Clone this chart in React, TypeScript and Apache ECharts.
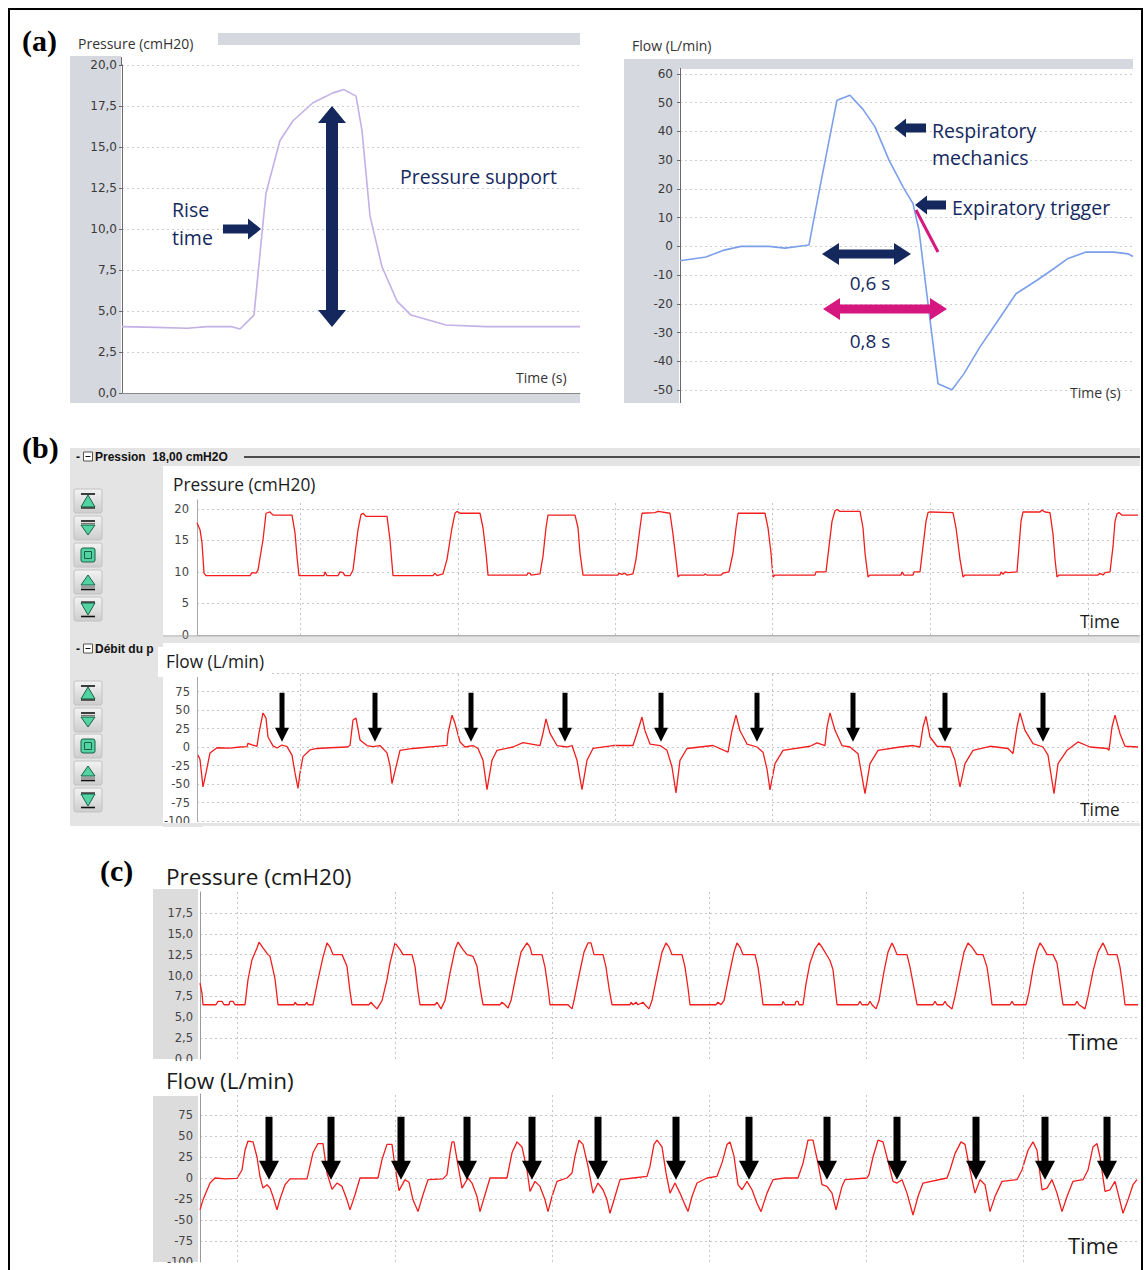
import React, { useEffect, useRef } from 'react';
import * as echarts from 'echarts';

const W = 1146;
const H = 1270;

// ---------- Panel (a): one breath (x = sample index from start of trace) ----------
const aPressure: [number, number][] = [
  [0, 4.05], [34, 4.0], [65, 3.95], [85, 4.05], [109, 4.05], [118, 3.9], [132, 4.75], [138, 8.5],
  [144, 12.2], [158, 15.4], [171, 16.6], [191, 17.7], [211, 18.3], [222, 18.5], [234, 18.1], [240, 16.0],
  [248, 10.8], [260, 7.7], [275, 5.6], [289, 4.75], [324, 4.15], [364, 4.05], [458, 4.05],
];
const aFlow: [number, number][] = [
  [0, -5.0], [26, -3.7], [43, -1.4], [61, 0], [89, 0], [105, -0.6], [129, 0.5], [140, 20.7],
  [157, 50.9], [170, 52.6], [183, 47.7], [195, 41.6], [209, 30], [223, 20.7], [233, 14.9], [239, 5.6],
  [248, -19.9], [258, -47.8], [272, -49.9], [284, -44.3], [300, -35], [318, -25.8], [336, -16.5],
  [357, -11.8], [374, -7.7], [388, -4.2], [406, -2], [434, -2], [448, -2.6], [453, -3.5],
];

// ---------- Panel (b): pressure support 18 cmH2O, delayed cycling ----------
const bPressure: [number, number][] = [
  [0, 17.8], [3, 16.7], [5, 14.6], [7, 9.8], [9, 9.4],
  [53, 9.4], [55, 9.9], [59, 9.8], [61, 10.3], [66, 15.1], [69, 19.3], [73, 19.5], [76, 19.0], [95, 19.0], [98, 16.2], [100, 12.4], [102, 9.4],
  [127, 9.4], [128, 10.0], [130, 9.4], [141, 9.4], [143, 10.0], [146, 9.9], [148, 9.4], [153, 9.4], [156, 10.3], [161, 16.7], [164, 19.1], [166, 19.3], [169, 18.8], [190, 18.8], [193, 15.1], [196, 9.4],
  [236, 9.4], [238, 9.8], [240, 9.4], [246, 9.7], [250, 12], [255, 17], [258, 19.3], [260, 19.6], [263, 19.3], [283, 19.3], [286, 17], [289, 13], [291, 9.5],
  [330, 9.5], [331, 9.8], [333, 9.8], [334, 9.5], [343, 9.7], [346, 12.5], [349, 17], [351, 19.0], [378, 19.0], [381, 17], [383, 13], [386, 9.5],
  [421, 9.5], [422, 9.8], [425, 9.6], [428, 9.8], [430, 9.5], [436, 9.7], [439, 12], [443, 17], [445, 19.3], [458, 19.4], [461, 19.6], [473, 19.3], [476, 16], [479, 12], [481, 9.2],
  [483, 9.5], [507, 9.5], [508, 9.7], [510, 9.5], [524, 9.5], [526, 9.8], [532, 10.0], [536, 13], [539, 17], [541, 19.3], [568, 19.3], [571, 17], [574, 13], [576, 9.2],
  [578, 9.5], [618, 9.5], [619, 10.0], [629, 10.0], [632, 14], [635, 18], [638, 19.7], [640, 19.9], [643, 19.6], [663, 19.6], [666, 17], [668, 13], [671, 9.2],
  [673, 9.5], [704, 9.5], [705, 10.0], [707, 9.5], [716, 9.5], [717, 10.0], [723, 10.0], [726, 14], [729, 18], [731, 19.4], [733, 19.5], [756, 19.4], [759, 17], [763, 12], [766, 9.2],
  [768, 9.5], [803, 9.5], [804, 10.0], [806, 9.6], [808, 10.0], [811, 9.9], [820, 10.0], [822, 14], [824, 18], [826, 19.5], [843, 19.5], [845, 19.8], [848, 19.5], [853, 19.4], [856, 16], [858, 12], [860, 9.2],
  [862, 9.5], [901, 9.5], [903, 9.8], [906, 9.5], [908, 9.9], [913, 10.0], [916, 14], [918, 18], [920, 19.2], [922, 19.4], [925, 19.0], [941, 19.0],
];
const bFlow: [number, number][] = [
  [1, -11], [3, -17], [6, -54], [9, -35], [13, -8], [20, -1], [33, -1.5], [43, 0], [50, 0.5], [51, 5], [55, 3], [60, 1], [62, 19], [66, 46], [69, 39], [71, 13.5], [76, 1.5], [80, -1.4], [85, 2.7], [90, 0.5],
  [95, -11], [98, -35], [101, -56], [103, -35], [106, -13], [113, -4], [120, -2], [133, -1], [150, 0], [153, 2], [156, 36.5], [159, 39], [163, 9.5], [170, 2], [176, 0.5], [183, 2],
  [190, -8], [193, -25], [195, -49.5], [203, -4.5], [216, -2], [250, 2.3], [251, 18.5], [255, 43], [258, 32], [263, 6.8], [268, 0], [276, 2], [281, -2],
  [286, -18], [290, -57.6], [295, -18], [300, -4.5], [316, 0], [326, 6], [343, 2], [346, 18.5], [349, 38], [353, 18.5], [360, 2], [370, 0], [375, 2],
  [380, -18], [385, -57.6], [390, -18], [396, -2], [416, 2], [436, 2], [440, 18.5], [445, 40.5], [448, 22], [453, 4], [463, 2], [470, -4.5],
  [475, -27], [479, -62], [483, -18], [490, -2], [516, 2], [531, -7], [535, 22], [539, 43], [543, 22], [550, 4], [560, 0], [566, -7],
  [570, -30], [573, -58], [578, -22.5], [586, -4.5], [613, 1], [620, 5.5], [628, 2], [630, 27], [633, 46], [638, 22.5], [645, 2], [653, 0], [661, -9],
  [668, -63], [673, -22.5], [681, -4.5], [703, 0], [716, 2], [723, 0], [726, 27], [729, 41.5], [733, 13.5], [740, 1], [753, 0],
  [758, -18], [763, -54], [768, -22.5], [776, -4.5], [793, 1], [811, -2], [816, -9], [820, 27], [823, 46], [828, 22.5], [836, 4.5], [846, 0],
  [851, -11], [857, -63], [861, -22.5], [870, -4.5], [881, 6.8], [893, 0], [910, -2], [912, -4.5], [915, 27], [918, 43], [923, 18], [928, 1], [941, 0],
];
const bArrowTimes = [85, 178, 274, 368, 464, 560, 656, 748, 846];
const bArrowLevel = 7;
const bGridTimes = [103, 261, 418, 575, 733, 891];

// ---------- Panel (c): lower support, cycling asynchrony ----------
const cPressure: [number, number][] = [
  [0, 9.1], [2, 7.9], [3, 6.5], [16, 6.5], [18, 6.9], [22, 6.9], [24, 6.5], [29, 6.5], [30, 6.9], [33, 6.9], [35, 6.5], [45, 6.5],
  [48, 9.5], [52, 11.9], [57, 13.3], [59, 14.0], [63, 13.3], [68, 12.5], [70, 12.3], [73, 10.7], [75, 9.6], [78, 6.5],
  [94, 6.5], [95, 6.8], [97, 6.5], [105, 6.5], [107, 6.8], [108, 6.5], [113, 6.5], [118, 9.5], [123, 12.2], [127, 13.9], [130, 13.4], [133, 12.5], [142, 12.5], [147, 11.1], [150, 8.1], [152, 6.5],
  [169, 6.5], [171, 6.8], [173, 6.5], [177, 6.0], [182, 7.0], [187, 9.5], [190, 11.5], [195, 13.9], [200, 13.1], [203, 12.5], [212, 12.5], [215, 11.1], [218, 8.1], [220, 6.5],
  [235, 6.5], [237, 6.8], [241, 6.0], [245, 7.0], [250, 10.3], [255, 13.1], [258, 14.0], [263, 13.1], [267, 12.5], [273, 12.3], [277, 11.1], [280, 8.6], [283, 6.5],
  [300, 6.5], [302, 6.8], [305, 6.5], [308, 6.1], [311, 7.0], [316, 10.0], [321, 12.8], [327, 13.9], [330, 13.4], [332, 12.5], [342, 12.5], [345, 11.0], [348, 8.5], [350, 6.5],
  [368, 6.5], [372, 6.0], [374, 7.0], [379, 10.0], [384, 12.8], [388, 13.9], [391, 13.9], [394, 12.5], [403, 12.5], [406, 11.0], [409, 8.5], [412, 6.5],
  [430, 6.5], [431, 6.8], [433, 6.5], [436, 6.8], [438, 6.5], [443, 6.8], [445, 6.5], [449, 6.0], [452, 7.0], [457, 10.0], [462, 12.8], [466, 13.9], [469, 13.4], [472, 12.5], [482, 12.5], [485, 11.0], [488, 8.5], [490, 6.5],
  [516, 6.5], [518, 6.8], [521, 6.5], [524, 7.0], [529, 10.0], [534, 12.8], [537, 13.9], [540, 13.4], [543, 12.5], [555, 12.5], [558, 11.0], [561, 8.5], [563, 6.5],
  [582, 6.5], [583, 6.9], [585, 6.5], [595, 6.5], [596, 6.9], [598, 6.9], [599, 6.5], [603, 6.5], [606, 9.0], [610, 11.5], [615, 13.2], [619, 13.9], [622, 13.4], [627, 12.4], [630, 11.8], [633, 10.7], [637, 6.5],
  [658, 6.5], [660, 6.9], [662, 6.5], [668, 6.5], [670, 6.9], [672, 6.5], [676, 6.0], [679, 7.0], [684, 10.5], [688, 12.8], [692, 13.9], [694, 13.4], [697, 12.5], [707, 12.5], [710, 11.0], [714, 8.5], [717, 6.5],
  [733, 6.5], [735, 6.9], [737, 6.5], [743, 6.5], [745, 6.9], [747, 6.5], [752, 6.0], [755, 7.5], [760, 10.5], [764, 12.8], [768, 13.9], [772, 13.4], [777, 12.5], [783, 12.5], [787, 11.0], [790, 8.5], [792, 6.5],
  [810, 6.5], [812, 6.9], [814, 6.5], [826, 6.5], [829, 8.0], [833, 10.8], [837, 13.0], [840, 13.9], [843, 13.4], [847, 12.5], [853, 12.5], [857, 11.5], [860, 9.0], [863, 6.5],
  [875, 6.5], [877, 6.9], [879, 6.5], [885, 6.0], [888, 7.5], [893, 10.5], [898, 12.8], [903, 13.9], [905, 13.4], [908, 12.5], [917, 12.5], [920, 11.0], [923, 8.5], [925, 6.5], [938, 6.5],
];
const cFlow: [number, number][] = [
  [0, -38], [3, -26], [10, -6], [15, 0], [25, -1], [37, -0.5], [42, 9.5], [45, 33], [48, 44], [53, 43], [57, 25], [60, 1.5], [63, -12], [67, -8], [70, -12], [73, -22], [77, -38], [80, -25], [85, -8], [90, -1],
  [107, -1], [108, 4], [113, 30], [118, 41], [123, 41], [127, 6], [132, -13.5], [137, -6], [142, -10], [147, -26], [150, -38], [155, -20], [160, 0],
  [178, 0], [182, 22], [187, 40], [192, 40], [195, 13.5], [199, -15], [205, -2], [209, -5], [213, -26], [218, -40], [223, -20], [228, -2],
  [243, -1], [247, 4], [250, 30], [252, 43], [254, 43], [257, 22], [262, -12], [268, 0], [272, -6], [277, -22], [280, -40], [285, -20], [290, 0],
  [307, 0], [312, 30], [317, 43], [322, 37], [327, 9.5], [330, -16], [335, -4], [340, -10], [345, -26], [348, -40], [352, -22], [357, -4], [367, 0],
  [372, 6], [375, 26], [379, 45], [383, 40], [388, 14], [393, -18], [398, -6], [403, -14], [407, -26], [410, -42], [415, -22], [420, -2], [433, 0],
  [447, 2], [450, 14], [454, 40], [457, 45], [462, 37], [466, 6], [470, -18], [475, -6], [480, -18], [485, -32], [488, -40], [492, -22], [497, -6], [507, 0],
  [517, 2], [522, 18], [527, 40], [530, 43], [534, 26], [538, -8], [542, -14], [547, -4], [552, -14], [557, -30], [561, -40], [567, -18], [573, -2], [585, 0],
  [598, 0], [603, 17.5], [608, 45], [613, 45], [618, 17.5], [622, -8], [627, -10], [632, -18], [636, -38], [642, -10], [645, -2], [667, 0],
  [669, 4], [673, 25], [678, 45], [683, 43], [688, 20], [693, -4], [697, -6], [702, -2], [707, -18], [713, -44], [718, -22], [723, -6], [747, 0],
  [750, 9.5], [755, 29], [761, 43], [765, 40], [770, 9.5], [775, -18], [780, -2], [785, -8], [790, -40], [795, -22], [802, -4], [817, -2],
  [822, 9.5], [828, 33], [833, 43], [837, 33], [842, -14], [847, -12], [852, -2], [857, -18], [862, -40], [867, -22], [873, -4], [883, -2],
  [888, 9.5], [893, 37], [897, 41], [900, 25], [905, -16], [910, -14], [915, -4], [918, -18], [923, -42], [928, -26], [933, -8], [937, -2],
];
const cArrowTimes = [69, 131, 201, 267, 332, 398, 476, 549, 627, 697, 776, 845, 907];
const cArrowLevel = -2;
const cGridTimes = [37, 195, 352, 509, 666, 823];

// ---------- styling ----------
const NAVY = '#14285e';
const MAG = '#d6177f';
const RED = '#f21d1d';
const SANS = '"Open Sans", "DejaVu Sans", sans-serif';
const TICKF = '"DejaVu Sans", sans-serif';
const SERIF = '"Liberation Serif", "Times New Roman", serif';

const comma = (d: number) => (v: number) => v.toFixed(d).replace('.', ',');
const dotLine = (c = '#c6c6c6') => ({ color: c, type: [2, 3] as number[], width: 1 });

const ARROW_B = 'path://M4.5,0 L9.5,0 L9.5,35 L14,35 L7,49 L0,35 L4.5,35 Z';
const ARROW_C = 'path://M6.5,0 L13.5,0 L13.5,44 L20,44 L10,63 L0,44 L6.5,44 Z';

function txt(x: number, y: number, text: string, size: number, fill: string, extra: any = {}) {
  return {
    type: 'text', z: 20, x, y,
    style: {
      text, fill, fontSize: size, fontFamily: extra.family || SANS, fontWeight: extra.weight || 'normal',
      align: extra.align || 'left', verticalAlign: 'middle',
      textAlign: extra.align || 'left', textVerticalAlign: 'middle',
    },
  };
}
function rect(x: number, y: number, w: number, h: number, fill: string, z = -3, stroke?: string) {
  return { type: 'rect', z, shape: { x, y, width: w, height: h }, style: { fill, stroke: stroke || null, lineWidth: 1 } };
}
function seg(x1: number, y1: number, x2: number, y2: number, stroke: string, lw = 1, z = 15) {
  return { type: 'line', z, shape: { x1, y1, x2, y2 }, style: { stroke, lineWidth: lw } };
}
function poly(points: number[][], fill: string, z = 15) {
  return { type: 'polygon', z, shape: { points }, style: { fill } };
}
function hDouble(x1: number, x2: number, y: number, s: number, hw: number, hl: number, fill: string) {
  return poly([
    [x1, y], [x1 + hl, y - hw / 2], [x1 + hl, y - s / 2], [x2 - hl, y - s / 2], [x2 - hl, y - hw / 2], [x2, y],
    [x2 - hl, y + hw / 2], [x2 - hl, y + s / 2], [x1 + hl, y + s / 2], [x1 + hl, y + hw / 2],
  ], fill);
}
function vDouble(x: number, y1: number, y2: number, s: number, hw: number, hl: number, fill: string) {
  return poly([
    [x, y1], [x + hw / 2, y1 + hl], [x + s / 2, y1 + hl], [x + s / 2, y2 - hl], [x + hw / 2, y2 - hl], [x, y2],
    [x - hw / 2, y2 - hl], [x - s / 2, y2 - hl], [x - s / 2, y1 + hl], [x - hw / 2, y1 + hl],
  ], fill);
}
function hArrow(tail: number, tip: number, y: number, s: number, hw: number, hl: number, fill: string) {
  const d = tip > tail ? 1 : -1;
  const b = tip - d * hl;
  return poly([[tail, y - s / 2], [b, y - s / 2], [b, y - hw / 2], [tip, y], [b, y + hw / 2], [b, y + s / 2], [tail, y + s / 2]], fill);
}

function button(cx: number, cy: number, kind: number) {
  const G = '#52d3a2';
  const GS = '#1b5f49';
  const els: any[] = [];
  els.push({
    type: 'rect', z: 5, shape: { x: cx - 14, y: cy - 12, width: 28, height: 24, r: 2 },
    style: {
      fill: new echarts.graphic.LinearGradient(0, 0, 0, 1, [
        { offset: 0, color: '#f3f3f3' }, { offset: 1, color: '#cdcdcd' },
      ]),
      stroke: '#c2c2c2', lineWidth: 1,
    },
  });
  const tri = (pts: number[][]) => ({ type: 'polygon', z: 6, shape: { points: pts }, style: { fill: G, stroke: GS, lineWidth: 1 } });
  if (kind === 0) {
    els.push(seg(cx - 7, cy - 7, cx + 7, cy - 7, '#111', 1.6, 7));
    els.push(tri([[cx, cy - 6], [cx + 7, cy + 6], [cx - 7, cy + 6]]));
    els.push(seg(cx - 7, cy + 7, cx + 7, cy + 7, '#111', 1.2, 7));
  } else if (kind === 1) {
    els.push(seg(cx - 7, cy - 7, cx + 7, cy - 7, '#111', 1.6, 7));
    els.push(seg(cx - 7, cy - 4.5, cx + 7, cy - 4.5, '#777', 1.2, 7));
    els.push(tri([[cx - 7, cy - 3], [cx + 7, cy - 3], [cx, cy + 7]]));
  } else if (kind === 2) {
    els.push({ type: 'rect', z: 6, shape: { x: cx - 7, y: cy - 7, width: 14, height: 14, r: 2 }, style: { fill: G, stroke: GS, lineWidth: 1 } });
    els.push({ type: 'rect', z: 7, shape: { x: cx - 3.5, y: cy - 3.5, width: 7, height: 7 }, style: { fill: 'none', stroke: GS, lineWidth: 1 } });
  } else if (kind === 3) {
    els.push(tri([[cx, cy - 7], [cx + 7, cy + 3], [cx - 7, cy + 3]]));
    els.push(seg(cx - 7, cy + 5, cx + 7, cy + 5, '#777', 1.2, 7));
    els.push(seg(cx - 7, cy + 7.5, cx + 7, cy + 7.5, '#111', 1.6, 7));
  } else {
    els.push(seg(cx - 7, cy - 7, cx + 7, cy - 7, '#111', 1.2, 7));
    els.push(tri([[cx - 7, cy - 6], [cx + 7, cy - 6], [cx, cy + 6]]));
    els.push(seg(cx - 7, cy + 7.5, cx + 7, cy + 7.5, '#111', 1.6, 7));
  }
  return els;
}

function header(y: number, label: string) {
  return [
    txt(76, y, '-', 12, '#111', { family: '"Liberation Sans", Arial, sans-serif', weight: 'bold' }),
    { type: 'rect', z: 20, shape: { x: 83.5, y: y - 5, width: 9, height: 9 }, style: { fill: '#fff', stroke: '#555', lineWidth: 1 } },
    seg(85.5, y - 0.5, 90.5, y - 0.5, '#111', 1, 21),
    txt(95, y, label, 12, '#111', { family: '"Liberation Sans", Arial, sans-serif', weight: 'bold' }),
  ];
}

function buildOption(): any {
  const grids = [
    { left: 122, top: 65, width: 458, height: 328 },
    { left: 680, top: 74, width: 453, height: 316 },
    { left: 197, top: 500, width: 941, height: 135 },
    { left: 197, top: 673, width: 941, height: 148 },
    { left: 200, top: 892, width: 938, height: 167 },
    { left: 200, top: 1094, width: 938, height: 168 },
  ];
  const xMax = [458, 453, 941, 941, 938, 938];
  const xAxis = grids.map((_, i) => ({
    type: 'value', gridIndex: i, min: 0, max: xMax[i],
    axisLabel: { show: false }, axisTick: { show: false }, splitLine: { show: false },
    axisLine: { show: i === 0 || i === 2, onZero: false, lineStyle: { color: i === 0 ? '#8a8a8a' : '#a8a8a8', width: 1 } },
  }));
  const tickLabel = (size: number, color: string, margin: number, fmt?: any) => ({
    fontSize: size, color, fontFamily: TICKF, margin, formatter: fmt,
  });
  const yAxis = [
    {
      type: 'value', gridIndex: 0, min: 0, max: 20, interval: 2.5,
      axisLine: { show: true, lineStyle: { color: '#6a6a6a' } },
      axisTick: { show: true, length: 3, lineStyle: { color: '#6a6a6a' } },
      axisLabel: tickLabel(12, '#3a3a3a', 5, comma(1)),
      splitLine: { show: true, showMinLine: false, lineStyle: dotLine('#cfcfcf') },
    },
    {
      type: 'value', gridIndex: 1, min: -50, max: 60, interval: 10,
      axisLine: { show: true, lineStyle: { color: '#6a6a6a' } },
      axisTick: { show: true, length: 3, lineStyle: { color: '#6a6a6a' } },
      axisLabel: tickLabel(12, '#3a3a3a', 7),
      splitLine: { show: true, lineStyle: dotLine('#cfcfcf') },
    },
    {
      type: 'value', gridIndex: 2, min: 0, max: 21.4, interval: 5,
      axisLine: { show: true, lineStyle: { color: '#a8a8a8' } },
      axisTick: { show: false },
      axisLabel: { ...tickLabel(11.5, '#444', 8), showMaxLabel: false },
      splitLine: { show: true, showMinLine: false, showMaxLine: false, lineStyle: dotLine() },
    },
    {
      type: 'value', gridIndex: 3, min: -100, max: 100, interval: 25,
      axisLine: { show: true, lineStyle: { color: '#a8a8a8' } },
      axisTick: { show: false },
      axisLabel: { ...tickLabel(11.5, '#444', 7), showMaxLabel: false },
      splitLine: { show: true, lineStyle: dotLine() },
    },
    {
      type: 'value', gridIndex: 4, min: 0, max: 20, interval: 2.5,
      axisLine: { show: true, lineStyle: { color: '#999' } },
      axisTick: { show: false },
      axisLabel: { ...tickLabel(11.5, '#444', 7, comma(1)), showMaxLabel: false },
      splitLine: { show: true, showMinLine: false, showMaxLine: false, lineStyle: dotLine() },
    },
    {
      type: 'value', gridIndex: 5, min: -100, max: 100, interval: 25,
      axisLine: { show: true, lineStyle: { color: '#999' } },
      axisTick: { show: false },
      axisLabel: { ...tickLabel(11.5, '#444', 7), showMaxLabel: false },
      splitLine: { show: true, showMinLine: false, showMaxLine: false, lineStyle: dotLine() },
    },
  ];

  const vGrid = (times: number[]) => ({
    silent: true, symbol: ['none', 'none'], label: { show: false },
    lineStyle: dotLine(), emphasis: { disabled: true },
    data: times.map((t) => ({ xAxis: t })),
  });
  const redLine = (i: number, data: any, grid: number[]) => ({
    type: 'line', xAxisIndex: i, yAxisIndex: i, data, symbol: 'none', silent: true, z: 3,
    lineStyle: { color: RED, width: 1.3 }, markLine: vGrid(grid),
  });

  const series: any[] = [
    { type: 'line', xAxisIndex: 0, yAxisIndex: 0, data: aPressure, symbol: 'none', silent: true, z: 3, lineStyle: { color: '#c2b0e6', width: 1.6 } },
    { type: 'line', xAxisIndex: 1, yAxisIndex: 1, data: aFlow, symbol: 'none', silent: true, z: 3, lineStyle: { color: '#7b9fea', width: 1.6 } },
    redLine(2, bPressure, bGridTimes),
    redLine(3, bFlow, bGridTimes),
    redLine(4, cPressure, cGridTimes),
    redLine(5, cFlow, cGridTimes),
    {
      type: 'scatter', xAxisIndex: 3, yAxisIndex: 3, silent: true, z: 6,
      data: bArrowTimes.map((t) => [t, bArrowLevel]),
      symbol: ARROW_B, symbolSize: [14, 49], symbolOffset: [0, '-50%'], itemStyle: { color: '#000', opacity: 1 },
    },
    {
      type: 'scatter', xAxisIndex: 5, yAxisIndex: 5, silent: true, z: 6,
      data: cArrowTimes.map((t) => [t, cArrowLevel]),
      symbol: ARROW_C, symbolSize: [20, 63], symbolOffset: [0, '-50%'], itemStyle: { color: '#000', opacity: 1 },
    },
  ];

  const PANEL_A = '#d5d8de';
  const PANEL_B = '#e4e4e4';
  const PANEL_C = '#dcdcdc';
  const elements: any[] = [
    // frame
    { type: 'rect', z: 30, shape: { x: 9, y: 9, width: 1133, height: 1290 }, style: { fill: 'none', stroke: '#000', lineWidth: 2 } },
    // panel (a) backgrounds
    rect(218, 33, 362, 12, PANEL_A),
    rect(70, 56, 51, 347, PANEL_A),
    rect(70, 394, 510, 9, PANEL_A),
    rect(624, 59, 509, 10, PANEL_A),
    rect(624, 59, 55, 344, PANEL_A),
    seg(121.5, 57, 121.5, 65, '#6a6a6a', 1, 1),
    seg(680.5, 68, 680.5, 74, '#6a6a6a', 1, 1),
    seg(680.5, 390, 680.5, 403, '#6a6a6a', 1, 1),
    // panel (b) backgrounds
    rect(70, 448, 1070, 378, PANEL_B, -3),
    rect(163, 466, 977, 169, '#ffffff', -2),
    rect(163, 643, 977, 180, '#ffffff', -2),
    seg(244, 457, 1140, 457, '#1a1a1a', 1.5, 1),
    seg(163, 636, 1140, 636, '#b8b8b8', 1, 1),
    // panel (c) backgrounds
    rect(153, 889, 45, 170, PANEL_C, -3),
    rect(153, 1096, 45, 166, PANEL_C, -3),
    // cover boxes (clip labels like the screenshot)
    rect(150, 1061, 60, 10, '#ffffff', 12),
    rect(150, 1263, 60, 10, '#ffffff', 12),
    rect(163, 823, 40, 4, PANEL_B, 12),
    rect(158, 647, 112, 30, '#ffffff', 12),
  ];
  // buttons
  [501, 528, 555, 582, 609].forEach((cy, k) => elements.push(...button(88, cy, k)));
  [693, 720, 746, 773, 800].forEach((cy, k) => elements.push(...button(88, cy, k)));
  elements.push(...header(457, 'Pression  18,00 cmH2O'));
  elements.push(...header(649, 'Débit du p'));

  // annotations panel (a)
  elements.push(
    vDouble(332, 106, 327, 12, 28, 17, NAVY),
    hArrow(223, 261, 229, 9, 21, 13, NAVY),
    hArrow(926, 894, 128, 9, 19, 12, NAVY),
    hArrow(946, 915, 205, 9, 19, 12, NAVY),
    seg(916, 210, 938, 252, MAG, 3, 15),
    hDouble(822, 911, 254, 9, 22, 17, NAVY),
    hDouble(823, 947, 309, 9, 22, 17, MAG),
  );

  // texts
  elements.push(
    txt(22, 40, '(a)', 30, '#000', { family: SERIF, weight: 'bold' }),
    txt(22, 447, '(b)', 30, '#000', { family: SERIF, weight: 'bold' }),
    txt(100, 870, '(c)', 30, '#000', { family: SERIF, weight: 'bold' }),
    txt(78, 43, 'Pressure (cmH20)', 14, '#333'),
    txt(632, 45, 'Flow (L/min)', 14, '#333'),
    txt(516, 377, 'Time (s)', 14, '#333'),
    txt(1070, 392, 'Time (s)', 14, '#333'),
    txt(172, 209, 'Rise', 19.5, NAVY),
    txt(172, 237, 'time', 19.5, NAVY),
    txt(400, 176, 'Pressure support', 19.5, NAVY),
    txt(932, 130, 'Respiratory', 19.5, NAVY),
    txt(932, 157, 'mechanics', 19.5, NAVY),
    txt(952, 207, 'Expiratory trigger', 19.5, NAVY),
    txt(870, 283, '0,6 s', 19, NAVY, { align: 'center' }),
    txt(870, 341, '0,8 s', 19, NAVY, { align: 'center' }),
    txt(173, 484, 'Pressure (cmH20)', 17.3, '#1a1a1a'),
    txt(166, 661, 'Flow (L/min)', 17.3, '#1a1a1a'),
    txt(1080, 621, 'Time', 17.3, '#1a1a1a'),
    txt(1080, 809, 'Time', 17.3, '#1a1a1a'),
    txt(166, 876, 'Pressure (cmH20)', 22.5, '#1a1a1a'),
    txt(1068, 1041, 'Time', 22, '#1a1a1a'),
    txt(166, 1080, 'Flow (L/min)', 22.5, '#1a1a1a'),
    txt(1068, 1245, 'Time', 22, '#1a1a1a'),
  );

  return {
    animation: false,
    backgroundColor: '#ffffff',
    grid: grids,
    xAxis,
    yAxis,
    series,
    graphic: { elements },
  };
}

export default function App() {
  const ref = useRef<HTMLDivElement>(null);
  useEffect(() => {
    if (!ref.current) return;
    const chart = echarts.init(ref.current, null, { renderer: 'svg' });
    chart.setOption(buildOption());
    return () => chart.dispose();
  }, []);
  return (
    <div
      ref={ref}
      style={{ position: 'absolute', left: 0, top: 0, width: W, height: H, background: '#fff' }}
    />
  );
}
